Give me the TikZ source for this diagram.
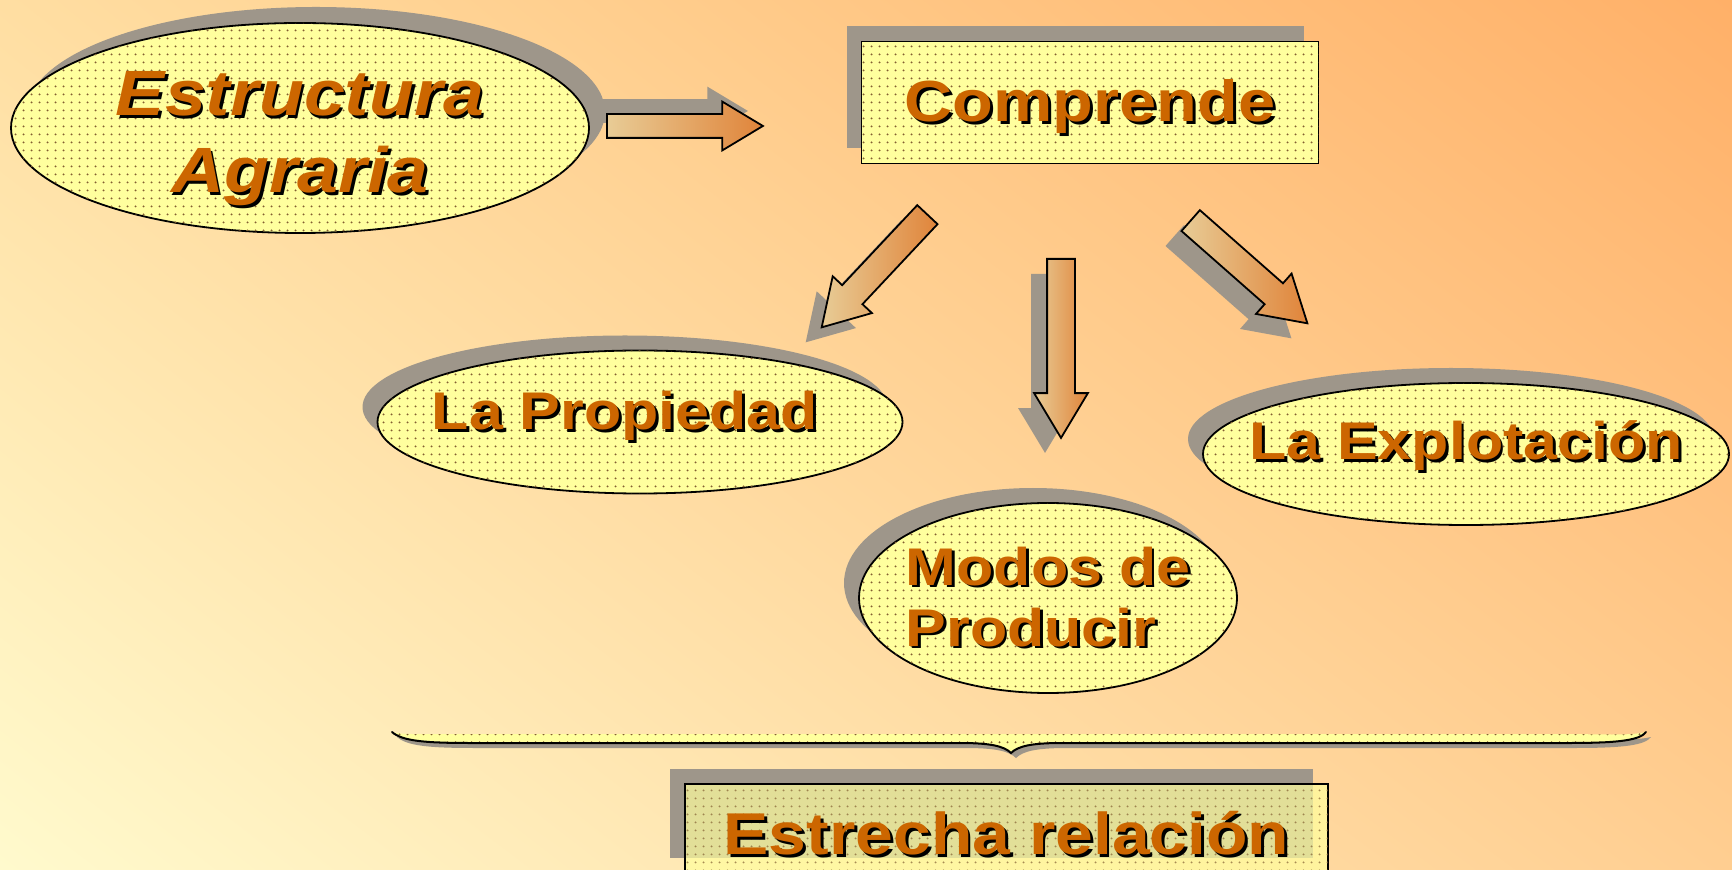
\documentclass[tikz,border=0pt]{standalone}
\usepackage{fontspec}
\setmainfont{Liberation Sans}[FakeStretch=1.15]
\usepackage{xcolor}
\definecolor{BgTL}{RGB}{255,222,162}
\definecolor{BgTR}{RGB}{255,176,104}
\definecolor{BgBL}{RGB}{255,250,205}
\definecolor{BgBR}{RGB}{255,206,145}
\definecolor{Pale}{RGB}{255,255,158}
\definecolor{Speck}{RGB}{130,95,50}
\definecolor{Ink}{RGB}{204,102,0}
\definecolor{ShadowGray}{RGB}{158,150,138}
\definecolor{ArrTail}{RGB}{232,204,150}
\definecolor{ArrTip}{RGB}{224,132,58}
\usepackage{tikz}
\usetikzlibrary{shapes.geometric}
\usetikzlibrary{shapes.arrows}
\usetikzlibrary{shadows}
\usetikzlibrary{shadings}
\usetikzlibrary{patterns.meta}
\usetikzlibrary{calc}
\newcommand{\ShTxt}[1]{\leavevmode\rlap{\hspace{1.4pt}\raisebox{-1.4pt}{\color{black}#1}}#1}
\newcommand{\BlockArrow}[4][]{%
  \path let \p1=($(#4)-(#3)$),\n1={atan2(\y1,\x1)},\n2={veclen(\x1,\y1)} in
    node[Arrow,#1,minimum height=\n2,rotate=\n1,anchor=tail](#2)at(#3){};}
\tikzstyle{ShadeUL}=[drop shadow={shadow xshift=-7.5pt,shadow yshift=7.5pt,fill=ShadowGray,opacity=1}]
\tikzstyle{ShadeUR}=[drop shadow={shadow xshift=8pt,shadow yshift=8pt,fill=ShadowGray,opacity=1}]
\tikzstyle{ShadeDL}=[drop shadow={shadow xshift=-8pt,shadow yshift=-7.5pt,fill=ShadowGray,opacity=1}]
\tikzstyle{Speckle}=[fill=Pale,postaction={pattern={Dots[distance=4pt,radius=.6pt]},pattern color=Speck}]
\tikzstyle{Oval}=[ellipse,draw,line width=.9pt,Speckle,inner xsep=-40pt,inner ysep=-10pt,
text=Ink,font=\bfseries\fontsize{26.5}{30.5}\selectfont]
\tikzstyle{Box}=[rectangle,draw,line width=.9pt,Speckle,inner sep=0pt,
text=Ink,font=\bfseries\fontsize{29}{33}\selectfont]
\tikzstyle{Arrow}=[single arrow,draw,line width=.9pt,left color=ArrTail,right color=ArrTip,
single arrow tip angle=62,single arrow head extend=6.5pt,inner xsep=0pt,inner ysep=6.5pt,
minimum width=0pt]

\begin{document}
\begin{tikzpicture}[x=.5pt,y=-.5pt]
        \useasboundingbox(0,0)rectangle(1732,870);
        \shade[upper left=BgTL,upper right=BgTR,lower left=BgBL,lower right=BgBR]
            (0,0)rectangle(1732,870);
        % shapes
        \node[Oval,ShadeUR,minimum width=289pt,minimum height=105pt,align=center,
            font=\bfseries\itshape\fontsize{32}{38.5}\selectfont,text height=73pt]
            (est)at(300,128){\ShTxt{Estructura}\\\ShTxt{Agraria}};
        \node[Box,ShadeUL,minimum width=228.5pt,minimum height=61pt,text height=22pt,
            text depth=2.5pt](comp)at(1090,102.5){\ShTxt{Comprende}};
        \node[Oval,ShadeUL,minimum width=262.5pt,minimum height=71.5pt,text height=20pt,
            text depth=12pt](prop)at(640,422){\ShTxt{La Propiedad}\hspace*{15pt}};
        \node[Oval,ShadeUL,minimum width=263pt,minimum height=71pt,text height=20pt,
            text depth=14pt](expl)at(1466,454){\ShTxt{La Explotación}};
        \node[Oval,ShadeUL,minimum width=189pt,minimum height=95pt,align=left]
            (modo)at(1048,598){\ShTxt{Modos de}\\\ShTxt{Producir}};
        \node[Box,ShadeUL,fill opacity=.7,text opacity=1,minimum width=321.5pt,
            minimum height=44.5pt,text height=26pt,text depth=0pt,
            font=\bfseries\fontsize{29.5}{33}\selectfont]
            (rel)at(1006.5,828.5){\ShTxt{Estrecha relación}};
        % arrows
        \coordinate(a1s)at(606,126);
        \coordinate(a1e)at(762,126);
        \coordinate(a2s)at(928,214);
        \coordinate(a2e)at(822,327);
        \coordinate(a3s)at(1061,258);
        \coordinate(a3e)at(1061,437);
        \coordinate(a4s)at(1190,220);
        \coordinate(a4e)at(1307,323);
        \BlockArrow[ShadeUL,inner ysep=5.5pt,single arrow head extend=6.25pt]{arr1}{a1s}{a1e}
        \BlockArrow[ShadeDL]{arr2}{a2s}{a2e}
        \BlockArrow[ShadeDL]{arr3}{a3s}{a3e}
        \BlockArrow[ShadeDL]{arr4}{a4s}{a4e}
        % brace
        \fill[Speckle,drop shadow={shadow xshift=2.5pt,shadow yshift=-2.5pt,fill=ShadowGray,opacity=1}]
            (392,732)..controls(402,741)and(425,743)..(470,743)--(960,743)
            ..controls(990,743)and(1004,746)..(1011,753)
            ..controls(1018,746)and(1032,743)..(1062,743)--(1570,743)
            ..controls(1620,743)and(1640,740)..(1646,732)
            ..controls(1630,736)and(1600,734)..(1560,734)--(480,734)
            ..controls(430,734)and(400,735)..(392,732)--cycle;
        \draw[line width=1pt,line cap=round]
            (392,732)..controls(402,741)and(425,743)..(470,743)--(960,743)
            ..controls(990,743)and(1004,746)..(1011,753)
            ..controls(1018,746)and(1032,743)..(1062,743)--(1570,743)
            ..controls(1620,743)and(1640,740)..(1646,732);
    \end{tikzpicture}
\end{document}
